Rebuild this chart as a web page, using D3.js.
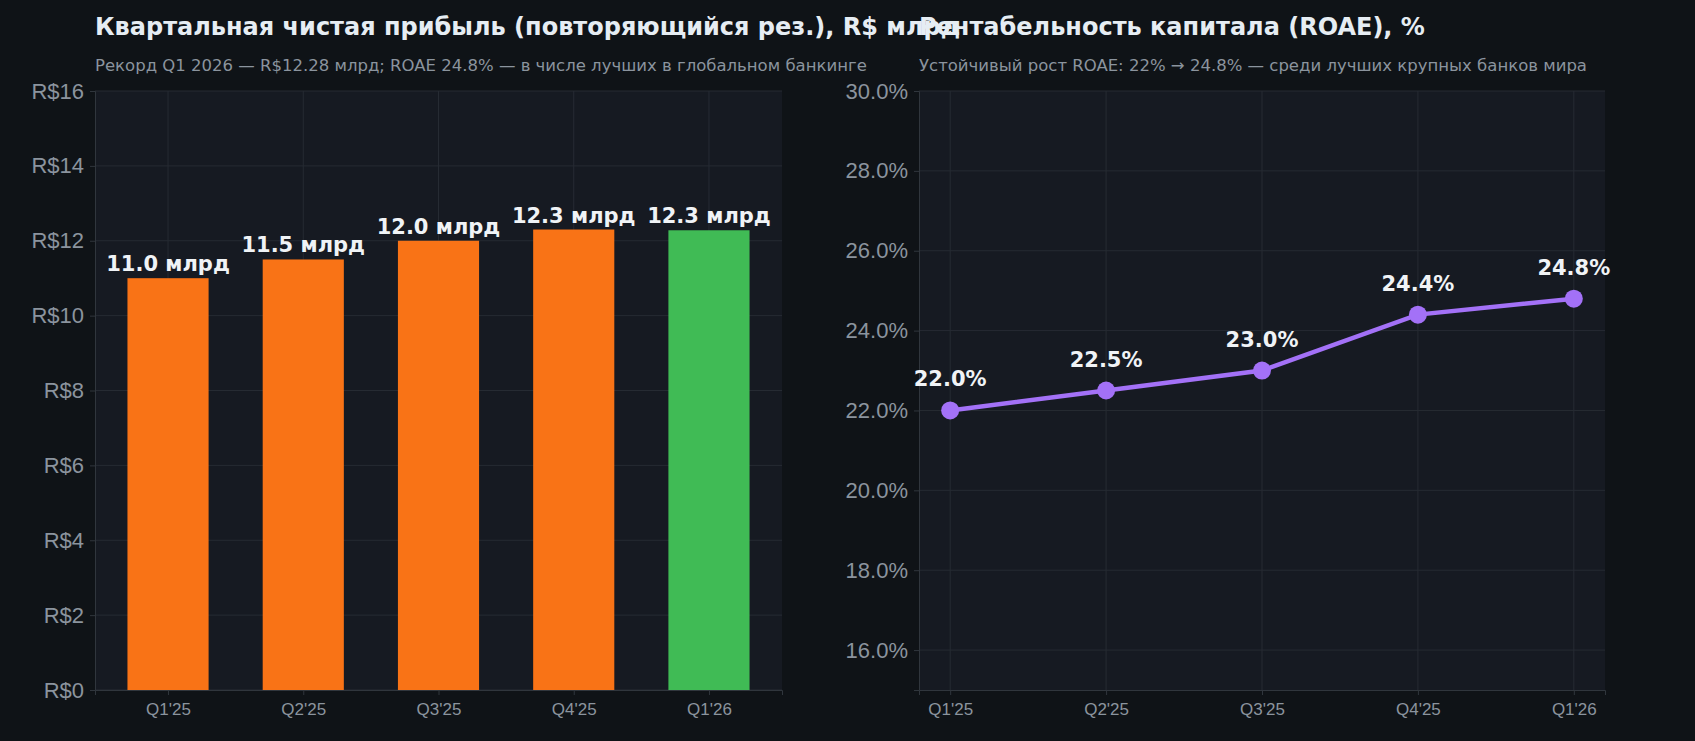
<!DOCTYPE html><html><head><meta charset="utf-8"><script src="https://cdn.jsdelivr.net/npm/d3@7"></script>
<style>body{margin:0;background:#0f1317}svg{display:block;font-family:"DejaVu Sans",sans-serif}</style></head><body><svg id="c" width="1695" height="741"></svg><script>
const categories=["Q1'25","Q2'25","Q3'25","Q4'25","Q1'26"];
const profit=[11.0,11.5,12.0,12.3,12.28];
const profitLabels=["11.0 млрд","11.5 млрд","12.0 млрд","12.3 млрд","12.3 млрд"];
const roae=[22.0,22.5,23.0,24.4,24.8];
const profitTicks=[0,2,4,6,8,10,12,14,16];
const roaeTicks=[16,18,20,22,24,26,28,30];
const svg=d3.select("#c");
svg.append("rect").attr("width",1695).attr("height",741).attr("fill","#0f1317");
const pTop=91,pBot=690,grid="#262b33",tick="#8b949e";
function panel(x0,x1,xdom,ydom,yt,yfmt){
  const g=svg.append("g");
  g.append("rect").attr("x",x0).attr("y",pTop).attr("width",x1-x0).attr("height",pBot-pTop).attr("fill","#161a22");
  const x=d3.scaleLinear().domain(xdom).range([x0,x1]);
  const y=d3.scaleLinear().domain(ydom).range([pBot,pTop]);
  yt.forEach(t=>g.append("line").attr("x1",x0).attr("x2",x1).attr("y1",y(t)).attr("y2",y(t)).attr("stroke",grid));
  categories.forEach((c,i)=>g.append("line").attr("x1",x(i)).attr("x2",x(i)).attr("y1",pTop).attr("y2",pBot).attr("stroke",grid));
  const ya=g.append("g").attr("transform",`translate(${x0},0)`).call(d3.axisLeft(y).tickValues(yt).tickFormat(yfmt).tickSize(5).tickPadding(6));
  const xa=g.append("g").attr("transform",`translate(0,${pBot})`).call(d3.axisBottom(x).tickValues(d3.range(5)).tickFormat(i=>categories[i]).tickSize(5).tickPadding(8));
  [ya,xa].forEach(a=>{a.selectAll("path,line").attr("stroke","#30363d");a.selectAll("text").attr("fill",tick);});
  ya.selectAll("text").attr("font-size",22);xa.selectAll("text").attr("font-size",17);
  return {g,x,y};
}
const L=panel(95,782,[-0.54,4.54],[0,16],profitTicks,d=>"R$"+d);
L.g.selectAll(".bar").data(profit).join("rect").attr("x",(d,i)=>L.x(i-0.3)).attr("width",L.x(0.6)-L.x(0))
 .attr("y",d=>L.y(d)).attr("height",d=>L.y(0)-L.y(d)).attr("fill",(d,i)=>i==4?"#40bb55":"#f97316");
L.g.selectAll(".bl").data(profit).join("text").attr("x",(d,i)=>L.x(i)).attr("y",d=>L.y(d)-7).attr("text-anchor","middle")
 .attr("fill","#f0f3f6").attr("font-size",21).attr("font-weight","bold").text((d,i)=>profitLabels[i]);
const R=panel(919,1605,[-0.2,4.2],[15,30],roaeTicks,d=>d.toFixed(1)+"%");
R.g.append("path").datum(roae).attr("d",d3.line().x((d,i)=>R.x(i)).y(d=>R.y(d))).attr("fill","none").attr("stroke","#a371f7").attr("stroke-width",4.5);
R.g.selectAll("circle").data(roae).join("circle").attr("cx",(d,i)=>R.x(i)).attr("cy",d=>R.y(d)).attr("r",9).attr("fill","#a371f7");
R.g.selectAll(".rl").data(roae).join("text").attr("x",(d,i)=>R.x(i)).attr("y",d=>R.y(d)-24).attr("text-anchor","middle")
 .attr("fill","#f0f3f6").attr("font-size",21).attr("font-weight","bold").text(d=>d.toFixed(1)+"%");
const T=(x,y,s,sz,w,c)=>svg.append("text").attr("x",x).attr("y",y).attr("font-size",sz).attr("font-weight",w).attr("fill",c).text(s);
T(95,35,"Квартальная чистая прибыль (повторяющийся рез.), R$ млрд",24,"bold","#e6edf3");
T(95,71,"Рекорд Q1 2026 — R$12.28 млрд; ROAE 24.8% — в числе лучших в глобальном банкинге",16.5,"normal","#8b949e");
T(919,35,"Рентабельность капитала (ROAE), %",24,"bold","#e6edf3");
T(919,71,"Устойчивый рост ROAE: 22% → 24.8% — среди лучших крупных банков мира",16.5,"normal","#8b949e");
</script></body></html>
